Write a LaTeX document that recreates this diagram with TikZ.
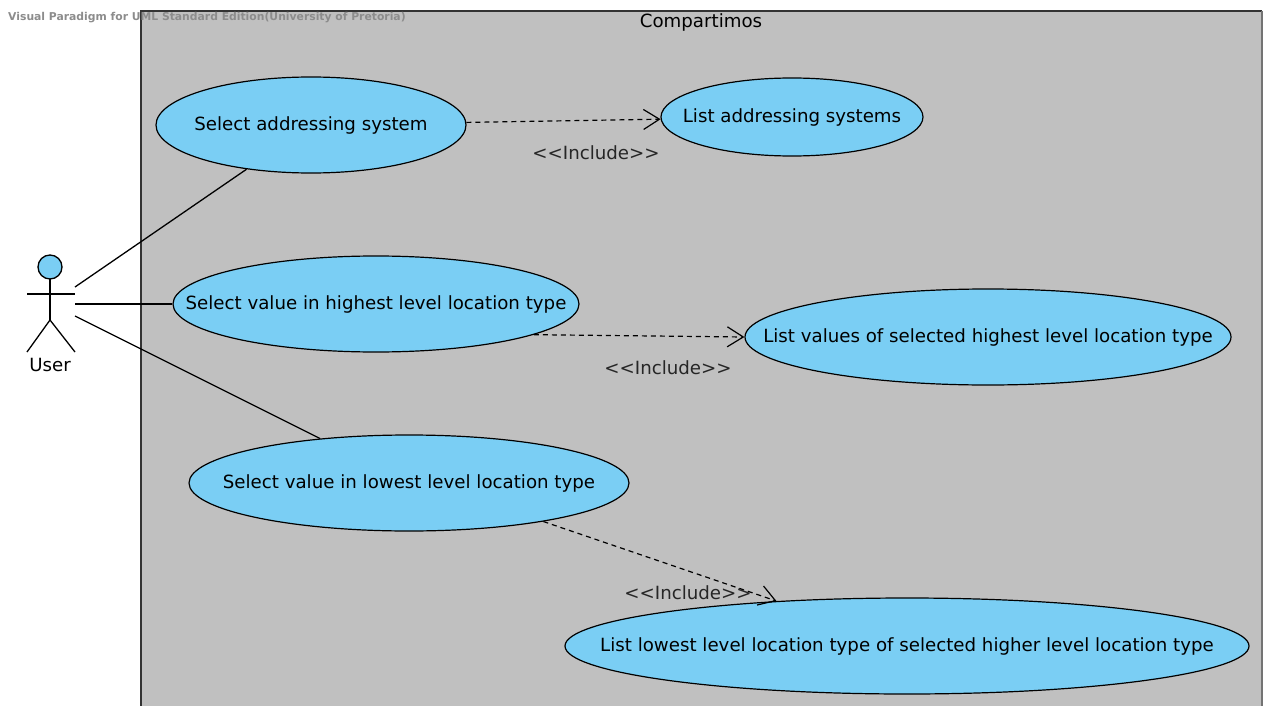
\documentclass[tikz,border=0pt]{standalone}
\usepackage{fontspec}
\setmainfont{DejaVu Sans}
\usetikzlibrary{shapes,arrows.meta}
\definecolor{ucfill}{HTML}{7ACEF4}
\definecolor{sysfill}{HTML}{C0C0C0}
\tikzstyle{usecase} = [ellipse, draw, fill=ucfill, line width=1.2pt, inner sep=0pt, minimum height=96pt, label distance=0pt, label={[ucfont]center:\ucname}]
\tikzstyle{ucfont} = [font=\fontsize{18.2}{21}\selectfont]
\tikzstyle{line} = [draw, line width=1.3pt]
\tikzstyle{include} = [draw, line width=1.2pt, dash pattern=on 5pt off 4pt, -{Straight Barb[length=16pt,width=20pt]}]
\tikzstyle{stereo} = [font=\fontsize{18.2}{21}\selectfont, text=black!85]
\newcommand{\ucname}{}
\newcommand{\incl}{<{}<Include>{}>}

\begin{document}
\begin{tikzpicture}[x=1pt, y=-1pt]
    \useasboundingbox (0,0) rectangle (1263,706);
    % system boundary
    \fill [sysfill] (141,11) rectangle (1262,706);
    \draw [line width=1.4pt, black!80] (141,706) -- (141,11) -- (1262,11);
    \draw [line width=1.2pt, black!55] (1262,11) -- (1262,706);
    \node [ucfont] (system) at (701,22) {Compartimos};
    \node [font=\fontsize{10.8}{12}\selectfont\bfseries, text=black!45, anchor=west, inner sep=0pt] (watermark) at (8,18) {Visual Paradigm for UML Standard Edition(University of Pretoria)};
    % actor
    \draw [line, fill=ucfill] (50,267) circle (12);
    \coordinate (neck) at (50,279);
    \coordinate (hip) at (50,320);
    \coordinate (armL) at (27,294);
    \coordinate (armR) at (75,294);
    \draw [line] (neck) -- (hip);
    \draw [line] (armL) -- (armR);
    \draw [line] (27,352) -- (hip) -- (75,352);
    \node [ucfont] (user) at (50,365) {User};
    \coordinate (userA) at (75,287);
    \coordinate (userB) at (75,304);
    \coordinate (userC) at (75,316);
    % use cases
    \renewcommand{\ucname}{Select addressing system}
    \node [usecase, minimum width=310pt] (selAddr) at (311,125) {};
    \renewcommand{\ucname}{List addressing systems}
    \node [usecase, minimum width=262pt, minimum height=78pt] (listAddr) at (792,117) {};
    \renewcommand{\ucname}{Select value in highest level location type}
    \node [usecase, minimum width=406pt] (selHigh) at (376,304) {};
    \renewcommand{\ucname}{List values of selected highest level location type}
    \node [usecase, minimum width=486pt] (listHigh) at (988,337) {};
    \renewcommand{\ucname}{Select value in lowest level location type}
    \node [usecase, minimum width=440pt] (selLow) at (409,483) {};
    \renewcommand{\ucname}{List lowest level location type of selected higher level location type}
    \node [usecase, minimum width=684pt] (listLow) at (907,646) {};
    % associations
    \path [line] (userA) -- (selAddr);
    \path [line] (userB) -- (selHigh);
    \path [line] (userC) -- (selLow);
    % includes
    \path [include] (selAddr) -- (listAddr);
    \path [include] (selHigh.-11.4) -- (listHigh.west);
    \path [include] (selLow.-16.4) -- (listLow.161.6);
    \node [stereo] (inc1) at (596,153) {\incl};
    \node [stereo] (inc2) at (668,368) {\incl};
    \node [stereo] (inc3) at (688,593) {\incl};
  \end{tikzpicture}
\end{document}
